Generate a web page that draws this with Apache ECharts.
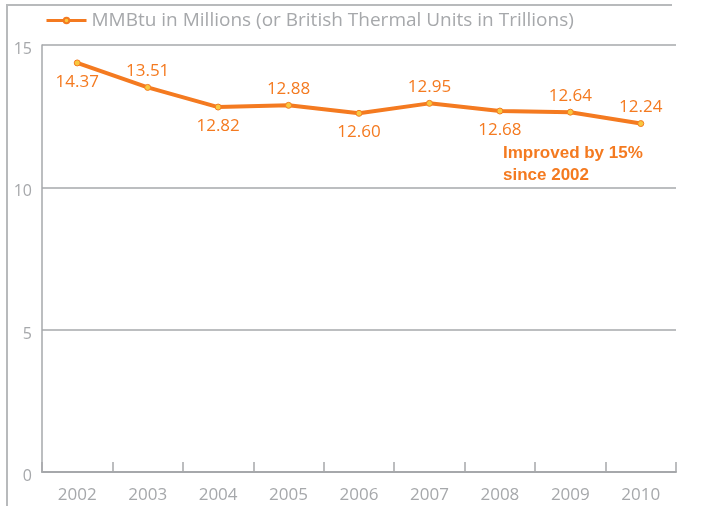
<!DOCTYPE html>
<html><head><meta charset="utf-8">
<script src="https://cdn.jsdelivr.net/npm/echarts@6/dist/echarts.min.js"></script>
<style>html,body{margin:0;padding:0;background:#fff}#c{width:702px;height:506px}</style>
</head><body><div id="c"></div>
<script>
var categories = ['2002','2003','2004','2005','2006','2007','2008','2009','2010'];
var values = [14.37, 13.51, 12.82, 12.88, 12.60, 12.95, 12.68, 12.64, 12.24];
var seriesName = 'MMBtu in Millions (or British Thermal Units in Trillions)';
var yTicks = [0, 5, 10, 15];
var annotation = 'Improved by 15%\nsince 2002';

var labelPos = ['bottom','top','bottom','top','bottom','top','bottom','top','top'];
var orange = '#f47a20';
var gray = '#a6a8ab';
var chart = echarts.init(document.getElementById('c'));
chart.setOption({
  animation: false,
  textStyle: {fontFamily: 'Open Sans'},
  legend: {
    left: 40, top: 6, itemWidth: 40, itemHeight: 7, itemGap: 10,
    lineStyle: {width: 3},
    textStyle: {color: gray, fontSize: 19, fontFamily: 'Open Sans'},
    data: [seriesName]
  },
  grid: {left: 42, right: 26, top: 45, bottom: 34},
  xAxis: {
    type: 'category', data: categories, boundaryGap: true,
    axisLine: {lineStyle: {color: gray, width: 2}},
    axisTick: {show: true, inside: true, length: 10, lineStyle: {color: gray, width: 1.5}},
    axisLabel: {color: gray, fontSize: 17, margin: 15, interval: 0}
  },
  yAxis: {
    type: 'value', min: yTicks[0], max: yTicks[yTicks.length-1], interval: 5,
    axisLine: {show: true, lineStyle: {color: gray, width: 1.5}},
    axisTick: {show: false},
    splitLine: {lineStyle: {color: gray, width: 1.5}},
    axisLabel: {color: gray, fontSize: 16, margin: 10, verticalAlign: 'top', lineHeight: 9}
  },
  graphic: [
    {type: 'line', shape: {x1: 6, y1: 5, x2: 672, y2: 5}, style: {stroke: '#b8babc', lineWidth: 2}},
    {type: 'line', shape: {x1: 7, y1: 5, x2: 7, y2: 506}, style: {stroke: '#b8babc', lineWidth: 2}},
    {type: 'text', left: 503, top: 142, style: {text: annotation, fill: orange, font: 'bold 17px "Liberation Sans"', lineHeight: 22}}
  ],
  series: [{
    name: seriesName, type: 'line', data: values.map(function(v, i){
      return {value: v, label: {position: labelPos[i], distance: labelPos[i] === 'top' ? 4 : 7}};
    }),
    symbol: 'circle', symbolSize: 6,
    itemStyle: {color: '#f8c840', borderColor: orange, borderWidth: 1},
    lineStyle: {color: orange, width: 4},
    label: {show: true, color: orange, fontSize: 17, formatter: function(p){return p.value.toFixed(2);}}
  }]
});
</script></body></html>
